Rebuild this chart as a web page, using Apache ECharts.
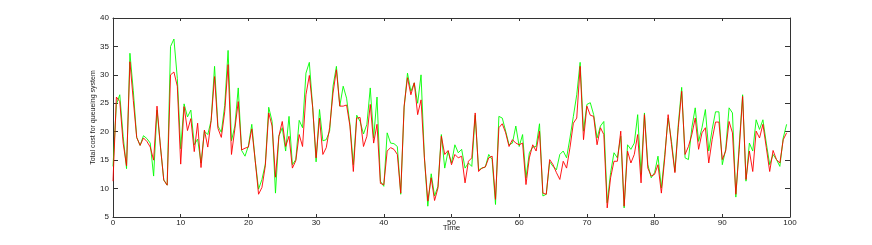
<!DOCTYPE html>
<html>
<head>
<meta charset="utf-8">
<script src="https://cdn.jsdelivr.net/npm/echarts@6/dist/echarts.min.js"></script>
<style>
html,body{margin:0;padding:0;background:#fff;}
#chart{width:872px;height:245px;}
</style>
</head>
<body>
<div id="chart"></div>
<script>
const timeStep = 0.5;
const xTicks = [0,10,20,30,40,50,60,70,80,90,100];
const yTicks = [5,10,15,20,25,30,35,40];
const redSeries = [
11.3,26.1,25.3,18,14,32.3,25.5,19,17.6,18.9,
18.3,17.3,15,24.5,17.5,11.5,10.6,30,30.5,28,
14.3,24.4,20.2,22.3,16.5,21.5,13.7,20.3,17.3,22,
29.7,20.6,19,23.5,31.8,16,20.5,25.3,16.8,17.1,
17.3,20.5,15,9,10.2,14,23.3,21,12,19.2,
21.8,17.4,19.2,13.6,14.9,19.5,17.4,26.5,29.9,24.2,
15.4,22.4,16,17.2,20.7,26.8,30.9,24.5,24.5,24.7,
21,13,22.4,22.5,17.4,19.2,24.8,18,21.3,10.9,
10.7,16.6,17.2,16.9,16,9.2,24.5,29.5,26.5,28.6,
23,25.6,15.4,7.8,11.9,7.9,10.1,19.2,16,16.7,
14.2,16,15.4,15.7,11,14.8,15.4,23.3,13,13.6,
13.8,15.4,15.7,8.1,20.7,21.4,19.8,17.4,18.6,18,
17.7,18,10.7,15.4,17.7,16.6,20.1,9.2,9,15.1,
14.2,12.8,11.6,14.8,13.6,17.2,21.5,22.4,31.5,18.6,
24.5,22.9,22.7,17.7,20.7,19.5,6.6,11.9,14.8,14.8,
20.1,6.9,16.6,14.5,16,19.5,11,23,13.6,12.2,
12.5,14.2,9.2,15.4,23,17.7,12.8,20.7,27.1,16,
17.4,19.5,22.4,16.9,19.8,20.7,14.5,18.6,21.7,21.7,
15.1,16.6,21.8,19.8,9,16.9,26.2,11.6,16.6,13,
20.1,18.9,21.3,17.2,13,16.7,15.1,14.5,18.6,19.8
];
const greenSeries = [
13.9,24.8,26.5,19.2,13.5,33.8,27.2,19,17.6,19.3,
18.8,18,12.2,23.8,17.5,11.5,10.6,35,36.3,29.4,
17,24.9,22.6,23.8,17.7,18.7,14.5,20.1,19.5,22,
31.5,21,19.9,24.6,34.3,18.4,21,27.7,16.7,15.7,
17.5,21.3,15,9.9,11.6,14.3,24.3,21.8,9.2,19.2,
20.7,16.6,22.7,14.2,15.1,22,20.7,30.3,32.2,24.2,
14.7,23.9,18.4,18.6,20.1,28,31.5,24.5,28,25.9,
21.3,14.2,22.9,21.8,19.6,21.3,27.7,18.9,26.1,11.3,
10.4,19.8,18,17.9,17.4,9,24.2,30.3,27.1,28.6,
25,30,15.4,6.9,12.6,8.7,10.4,19.5,13.6,16.6,
14.5,17.7,16.3,16.9,13.6,14.5,13.9,22.9,13.3,13.6,
13.8,16,15.1,7.2,22.7,22.4,20.1,17.7,18,21,
17.4,19.5,11.9,16.3,17.3,17.4,21.4,8.7,9,14.7,
13.9,13.3,16,16.6,15.4,18.9,22.7,26.5,32.2,20.1,
24.8,25.1,23,18.9,21,21.8,7.5,12.8,16.3,15.4,
19.2,6.6,17.7,16.9,18,23,12.5,23.3,14.2,11.9,
12.8,15.7,10.1,16,22.4,18.3,13,21.3,27.8,15.4,
15.1,20.7,24.2,18.3,20.7,23.9,16.6,20.4,23.5,23.5,
14.2,16.9,24.2,23.3,8.5,17.7,26.5,11.3,18,16.6,
22.1,20.4,22.1,18,14.2,16,15.1,13.9,18.9,21.3
];
const xName = 'Time';
const yName = 'Total cost for queueing system';

const toPairs = arr => arr.map((v, i) => [i * timeStep, v]);
const font = 'Liberation Sans, Arial, sans-serif';
const axisColor = '#333';

const chart = echarts.init(document.getElementById('chart'), null, {renderer: 'canvas'});
const baseX = {
  type: 'value', min: xTicks[0], max: xTicks[xTicks.length-1], interval: 10,
  splitLine: {show: false},
  axisLine: {show: true, onZero: false, lineStyle: {color: axisColor, width: 1}},
  axisTick: {show: true, inside: true, length: 3, lineStyle: {color: axisColor}}
};
const baseY = {
  type: 'value', min: yTicks[0], max: yTicks[yTicks.length-1], interval: 5,
  splitLine: {show: false},
  axisLine: {show: true, onZero: false, lineStyle: {color: axisColor, width: 1}},
  axisTick: {show: true, inside: true, length: 5, lineStyle: {color: axisColor}}
};
chart.setOption({
  animation: false,
  backgroundColor: '#fff',
  grid: {left: 113, top: 18, width: 677, height: 199, containLabel: false},
  xAxis: [
    Object.assign({}, baseX, {
      position: 'bottom', name: xName, nameLocation: 'middle', nameGap: 7,
      nameMoveOverlap: false,
      nameTextStyle: {fontFamily: font, fontSize: 8, color: '#222'},
      axisLabel: {show: true, fontFamily: font, fontSize: 8, color: '#222', margin: 2}
    }),
    Object.assign({}, baseX, {position: 'top', axisLabel: {show: false}})
  ],
  yAxis: [
    Object.assign({}, baseY, {
      position: 'left', name: yName, nameLocation: 'middle', nameGap: 16,
      nameMoveOverlap: false,
      nameTextStyle: {fontFamily: font, fontSize: 7, color: '#222'},
      axisLabel: {show: true, fontFamily: font, fontSize: 8, color: '#222', margin: 4}
    }),
    Object.assign({}, baseY, {position: 'right', axisLabel: {show: false}})
  ],
  series: [
    {type: 'line', data: toPairs(greenSeries), showSymbol: false, symbol: 'none',
     lineStyle: {color: '#00ff00', width: 0.9}, itemStyle: {color: '#00ff00'}, z: 2},
    {type: 'line', data: toPairs(redSeries), showSymbol: false, symbol: 'none',
     lineStyle: {color: '#ff0000', width: 0.9}, itemStyle: {color: '#ff0000'}, z: 3}
  ]
});
</script>
</body>
</html>
